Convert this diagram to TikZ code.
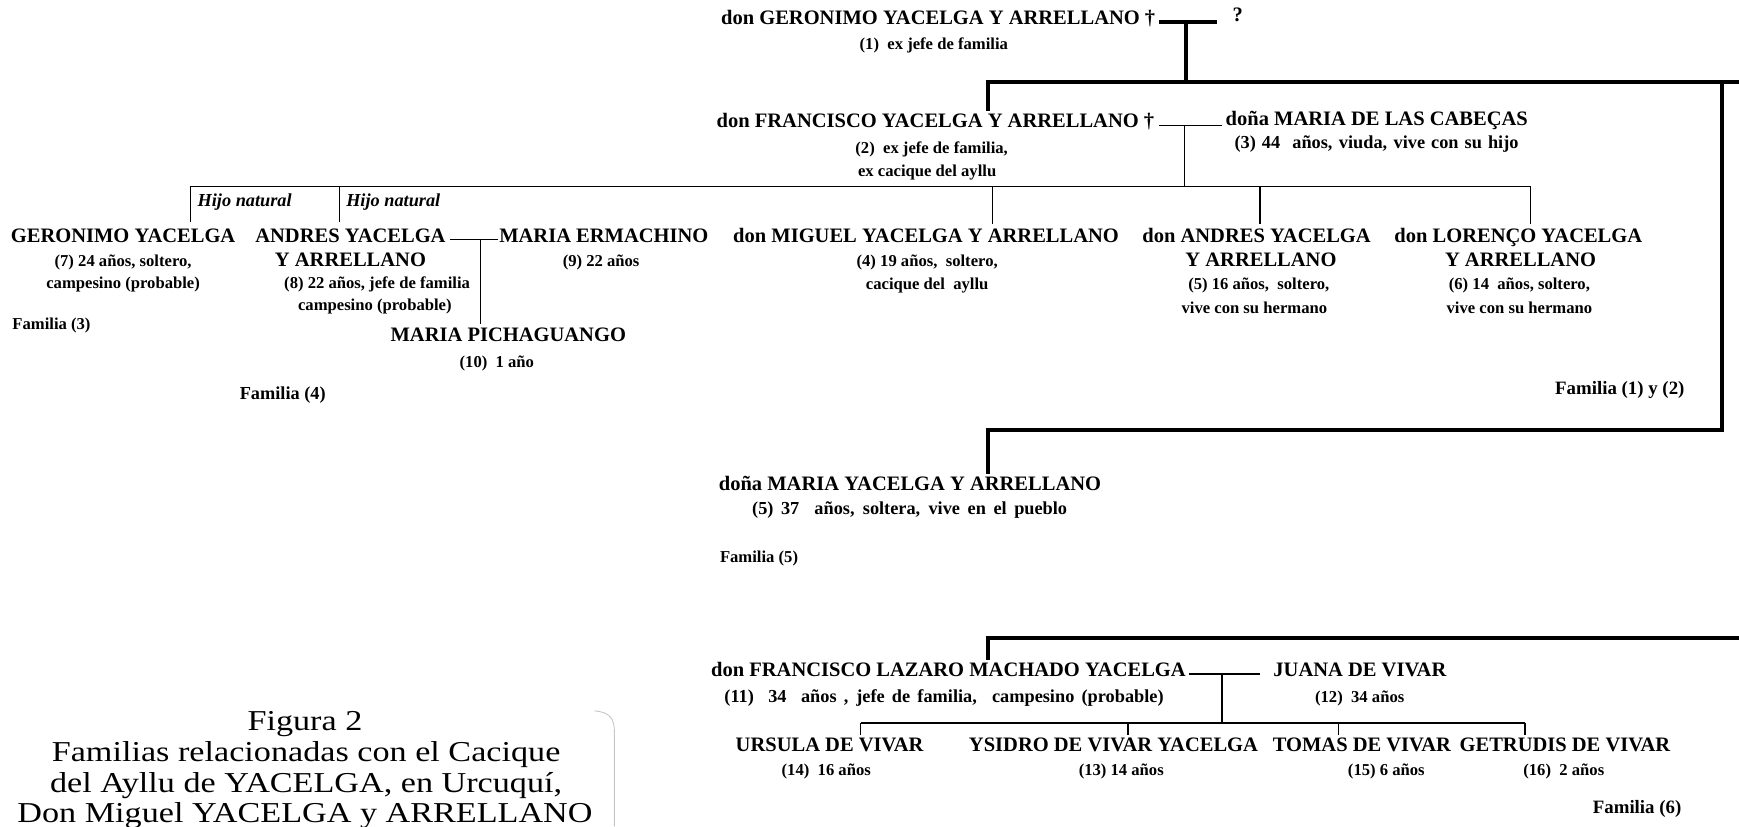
\documentclass[tikz,border=0pt]{standalone}
\usepackage{fontspec}
\setmainfont{Liberation Serif}
\begin{document}
\begin{tikzpicture}[x=1pt,y=-1pt,
  nm/.style={font=\bfseries\fontsize{18.5}{21}\selectfont, inner sep=0pt},
  dt/.style={font=\bfseries\fontsize{15}{18}\selectfont, inner sep=0pt},
  dtl/.style={font=\bfseries\fontsize{16.5}{19}\selectfont, inner sep=0pt, anchor=mid west},
  fam/.style={font=\bfseries\fontsize{15}{18}\selectfont, inner sep=0pt, anchor=mid west},
  bigfam/.style={fam, font=\bfseries\fontsize{17}{20}\selectfont},
  hn/.style={font=\bfseries\itshape\fontsize{16.5}{19}\selectfont, inner sep=0pt, anchor=mid west},
  captxt/.style={font=\fontsize{26}{28}\selectfont, inner sep=0pt, anchor=mid},
  heavy/.style={line width=3.6pt},
  lite/.style={line width=1.3pt},
]
\useasboundingbox (0,0) rectangle (1568,745);

% ---------- generation 1
\node[nm, anchor=mid west] (g1) at (650,20) {don GERONIMO YACELGA Y ARRELLANO †};
\node[nm, anchor=mid] (q) at (1116,17) {?};
\node[dt, anchor=mid] (g1d) at (842,42) {(1)~ ex jefe de familia};

% ---------- generation 2
\node[nm, anchor=mid west] (f1) at (646,113) {don FRANCISCO YACELGA Y ARRELLANO †};
\node[dt, anchor=mid] (f1da) at (840,136) {(2)~ ex jefe de familia,};
\node[dt, anchor=mid] (f1db) at (836,157) {ex cacique del ayllu};
\node[nm, anchor=mid west] (w1) at (1105,111) {doña MARIA DE LAS CABEÇAS};
\node[dtl] (w1d) at (1113,132) {\makebox[256pt][s]{(3) 44~ años, viuda, vive con su hijo}};

% ---------- generation 3
\node[hn] (hn1) at (178,184) {Hijo natural};
\node[hn] (hn2) at (312,184) {Hijo natural};

\node[nm, anchor=mid] (c7) at (111,216) {GERONIMO YACELGA};
\node[dt, anchor=mid] (c7da) at (111,238) {(7) 24 años, soltero,};
\node[dt, anchor=mid] (c7db) at (111,258) {campesino (probable)};
\node[fam] (fam3) at (11,295) {Familia (3)};

\node[nm, anchor=mid] (c8a) at (316,216) {ANDRES YACELGA};
\node[nm, anchor=mid] (c8b) at (316,238) {Y ARRELLANO};
\node[dt, anchor=mid] (c8da) at (340,258) {(8) 22 años, jefe de familia};
\node[dt, anchor=mid] (c8db) at (338,278) {campesino (probable)};
\node[nm, anchor=mid west] (w8) at (450,216) {MARIA ERMACHINO};
\node[dt, anchor=mid] (w8d) at (542,238) {(9) 22 años};
\node[nm, anchor=mid west] (c10) at (352,306) {MARIA PICHAGUANGO};
\node[dt, anchor=mid] (c10d) at (448,329) {(10)~ 1 año};
\node[fam, font=\bfseries\fontsize{16.5}{19}\selectfont] (fam4) at (216,358) {Familia (4)};

\node[nm, anchor=mid] (c4) at (835,216) {don MIGUEL YACELGA Y ARRELLANO};
\node[dt, anchor=mid] (c4da) at (836,238) {(4) 19 años,~ soltero,};
\node[dt, anchor=mid] (c4db) at (836,259) {cacique del~ ayllu};

\node[nm, anchor=mid] (c5a) at (1133,216) {don ANDRES YACELGA};
\node[nm, anchor=mid] (c5b) at (1137,238) {Y ARRELLANO};
\node[dt, anchor=mid] (c5da) at (1135,259) {(5) 16 años,~ soltero,};
\node[dt, anchor=mid] (c5db) at (1131,280) {vive con su hermano};

\node[nm, anchor=mid] (c6a) at (1369,216) {don LORENÇO YACELGA};
\node[nm, anchor=mid] (c6b) at (1371,238) {Y ARRELLANO};
\node[dt, anchor=mid] (c6da) at (1370,259) {(6) 14~ años, soltero,};
\node[dt, anchor=mid] (c6db) at (1370,280) {vive con su hermano};
\node[bigfam] (fam12) at (1402,353) {Familia (1) y (2)};

% ---------- doña Maria
\node[nm, anchor=mid west] (m5) at (648,440) {doña MARIA YACELGA Y ARRELLANO};
\node[dtl] (m5d) at (678,462) {\makebox[284pt][s]{(5) 37~ años, soltera, vive en el pueblo}};
\node[fam] (fam5) at (649,505) {Familia (5)};

% ---------- Francisco Lazaro
\node[nm, anchor=mid west] (fl) at (641,608) {don FRANCISCO LAZARO MACHADO YACELGA};
\node[dtl] (fld) at (653,631) {\makebox[396pt][s]{(11)~ 34~ años , jefe de familia,~ campesino (probable)}};
\node[nm, anchor=mid west] (jv) at (1148,608) {JUANA DE VIVAR};
\node[dt, anchor=mid] (jvd) at (1226,631) {(12)~ 34 años};

\node[nm, anchor=mid] (u14) at (748,675) {URSULA DE VIVAR};
\node[dt, anchor=mid] (u14d) at (745,697) {(14)~ 16 años};
\node[nm, anchor=mid] (y13) at (1004,675) {YSIDRO DE VIVAR YACELGA};
\node[dt, anchor=mid] (y13d) at (1011,697) {(13) 14 años};
\node[nm, anchor=mid] (t15) at (1228,675) {TOMAS DE VIVAR};
\node[dt, anchor=mid] (t15d) at (1250,697) {(15) 6 años};
\node[nm, anchor=mid] (g16) at (1411,675) {GETRUDIS DE VIVAR};
\node[dt, anchor=mid] (g16d) at (1410,697) {(16)~ 2 años};
\node[bigfam] (fam6) at (1436,731) {Familia (6)};

% ---------- caption
\node[captxt] (cap1) at (275,656) {\scalebox{1.185}[1]{Figura 2}};
\node[captxt] (cap2) at (276,684) {\scalebox{1.185}[1]{Familias relacionadas con el Cacique}};
\node[captxt] (cap3) at (276,712) {\scalebox{1.185}[1]{del Ayllu de YACELGA, en Urcuquí,}};
\node[captxt] (cap4) at (275,739) {\scalebox{1.185}[1]{Don Miguel YACELGA y ARRELLANO}};
\draw[gray!45, line width=0.8pt] (536,641) .. controls (550,642) and (554,648) .. (554,660) -- (554,745);

% ---------- connectors: heavy lines
\coordinate (j1) at (1069,20);
\coordinate (tl) at (891,74);
\coordinate (tr) at (1568,74);
\coordinate (rv) at (1553,74);
\coordinate (rb) at (1553,388);
\coordinate (bl) at (891,575);
\coordinate (br) at (1568,575);
\draw[heavy] ([xshift=3pt]g1.mid east) -- ([xshift=-14pt]q.west |- g1.mid east);
\draw[heavy] (j1) -- (j1 |- tl);
\draw[heavy] (tr) -- (tl) -- ([yshift=2pt]tl |- f1.north);
\draw[heavy] (rv) -- (rb) -- (rb -| tl) -- ([yshift=2pt]tl |- m5.north);
\draw[heavy] (br) -- (bl) -- ([yshift=2pt]bl |- fl.north);

% ---------- connectors: couples and children
\coordinate (j2) at (1068,113);
\coordinate (kl) at (172,168);
\coordinate (k2) at (306,168);
\coordinate (k3) at (895,168);
\coordinate (k4) at (1136,168);
\coordinate (kr) at (1380,168);
\draw[lite] ([xshift=4pt]f1.mid east) -- ([xshift=-3pt]w1.mid west |- f1.mid east);
\draw[lite] (j2) -- (j2 |- kl);
\draw[lite] (kl) -- (kr);
\draw[lite] (kl) -- ++(0,32);
\draw[lite] (k2) -- ++(0,32);
\draw[lite] (k3) -- ++(0,34);
\draw[lite] (k4) -- ++(0,34);
\draw[lite] (kr) -- ++(0,34);

\coordinate (j3) at (433,216);
\draw[lite] ([xshift=4pt]c8a.mid east) -- ([xshift=-1pt]w8.mid west);
\draw[lite] (j3) -- ++(0,76);

\coordinate (j4) at (1102,608);
\coordinate (kbl) at (776,652);
\coordinate (kb2) at (1017,652);
\coordinate (kb3) at (1207,652);
\coordinate (kbr) at (1375,652);
\draw[lite, line width=1.8pt] ([xshift=3pt]fl.mid east) -- ([xshift=-12pt]jv.mid west);
\draw[lite] (j4) -- (j4 |- kbl);
\draw[lite] (kbl) -- (kbr);
\draw[lite] (kbl) -- ++(0,11);
\draw[lite] (kb2) -- ++(0,11);
\draw[lite] (kb3) -- ++(0,11);
\draw[lite] (kbr) -- ++(0,11);
\end{tikzpicture}
\end{document}
